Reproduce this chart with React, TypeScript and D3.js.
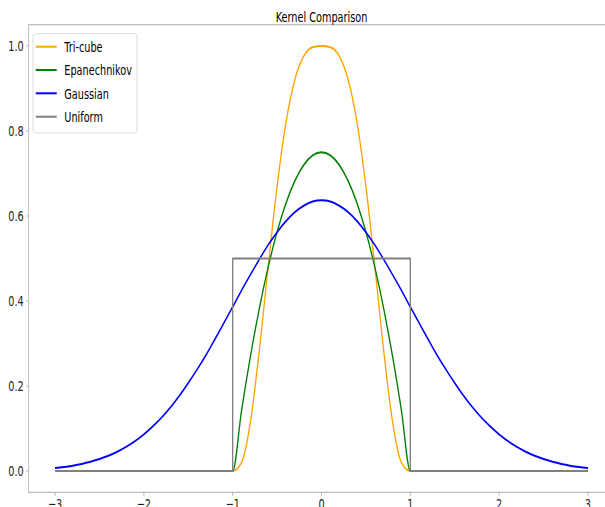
import React from "react";
import * as d3 from "d3";

// sample positions shared by the smooth kernels
const xGrid = [
  -3.0, -2.9, -2.8, -2.7, -2.6, -2.5, -2.4, -2.3, -2.2, -2.1,
  -2.0, -1.9, -1.8, -1.7, -1.6, -1.5, -1.4, -1.3, -1.2, -1.1,
  -1.0, -0.9, -0.8, -0.7, -0.6, -0.5, -0.4, -0.3, -0.2, -0.1,
  0.0,
  0.1, 0.2, 0.3, 0.4, 0.5, 0.6, 0.7, 0.8, 0.9, 1.0,
  1.1, 1.2, 1.3, 1.4, 1.5, 1.6, 1.7, 1.8, 1.9, 2.0,
  2.1, 2.2, 2.3, 2.4, 2.5, 2.6, 2.7, 2.8, 2.9, 3.0,
];

const triCube = [
  0, 0, 0, 0, 0, 0, 0, 0, 0, 0,
  0, 0, 0, 0, 0, 0, 0, 0, 0, 0,
  0, 0.02, 0.116, 0.284, 0.482, 0.67, 0.82, 0.921, 0.976, 0.997,
  1.0,
  0.997, 0.976, 0.921, 0.82, 0.67, 0.482, 0.284, 0.116, 0.02, 0,
  0, 0, 0, 0, 0, 0, 0, 0, 0, 0,
  0, 0, 0, 0, 0, 0, 0, 0, 0, 0,
];

const epanechnikov = [
  0, 0, 0, 0, 0, 0, 0, 0, 0, 0,
  0, 0, 0, 0, 0, 0, 0, 0, 0, 0,
  0, 0.1425, 0.27, 0.3825, 0.48, 0.5625, 0.63, 0.6825, 0.72, 0.7425,
  0.75,
  0.7425, 0.72, 0.6825, 0.63, 0.5625, 0.48, 0.3825, 0.27, 0.1425, 0,
  0, 0, 0, 0, 0, 0, 0, 0, 0, 0,
  0, 0, 0, 0, 0, 0, 0, 0, 0, 0,
];

const gaussian = [
  0.0071, 0.0095, 0.0126, 0.0166, 0.0217, 0.028, 0.0357, 0.0452, 0.0566, 0.0702,
  0.0862, 0.105, 0.126, 0.15, 0.177, 0.207, 0.239, 0.273, 0.31, 0.348,
  0.386, 0.425, 0.462, 0.498, 0.532, 0.562, 0.588, 0.609, 0.624, 0.634,
  0.637,
  0.634, 0.624, 0.609, 0.588, 0.562, 0.532, 0.498, 0.462, 0.425, 0.386,
  0.348, 0.31, 0.273, 0.239, 0.207, 0.177, 0.15, 0.126, 0.105, 0.0862,
  0.0702, 0.0566, 0.0452, 0.0357, 0.028, 0.0217, 0.0166, 0.0126, 0.0095, 0.0071,
];

// box kernel, with the jumps at -1 and 1
const uniformX = [-3, -1, -1, 1, 1, 3];
const uniformY = [0, 0, 0.5, 0.5, 0, 0];

const xTicks = [-3, -2, -1, 0, 1, 2, 3];
const yTicks = [0.0, 0.2, 0.4, 0.6, 0.8, 1.0];

const seriesNames = ["Tri-cube", "Epanechnikov", "Gaussian", "Uniform"];
const seriesColors = ["#ffa500", "#008000", "#0000ff", "#808080"];

// the figure looks squeezed sideways, so draw wide and scale x down
const SX = 0.67;
const H = 507;
const FONT = "DejaVu Sans, sans-serif";
const FS = 14.5;

export default function App() {
  const left = 28.4 / SX;
  const right = 614.6 / SX;
  const top = 24.75;
  const bottom = 492.25;

  const x = d3.scaleLinear().domain([-3.3, 3.3]).range([left, right]);
  const y = d3.scaleLinear().domain([-0.05, 1.05]).range([bottom, top]);

  const smooth = d3
    .line<number>()
    .x((_, i) => x(xGrid[i]))
    .y((d) => y(d))
    .curve(d3.curveMonotoneX);

  const straight = d3
    .line<number>()
    .x((_, i) => x(uniformX[i]))
    .y((d) => y(d));

  const paths = [
    smooth(triCube),
    smooth(epanechnikov),
    smooth(gaussian),
    straight(uniformY),
  ];

  const legendX = 33 / SX;
  const legendRows = [46.7, 70, 93.3, 116.7];

  return (
    <svg
      width={605}
      height={H}
      style={{ position: "absolute", left: 0, top: 0, background: "#fff" }}
    >
      <g transform={`scale(${SX},1)`} fontFamily={FONT} fontSize={FS}>
        <defs>
          <clipPath id="plot">
            <rect x={left} y={top} width={right - left} height={bottom - top} />
          </clipPath>
        </defs>

        {/* curves */}
        <g clipPath="url(#plot)">
          {paths.map((p, i) => (
            <path
              key={seriesNames[i]}
              d={p || ""}
              fill="none"
              stroke={seriesColors[i]}
              strokeWidth={2}
              strokeLinejoin="round"
            />
          ))}
        </g>

        {/* spines */}
        <rect
          x={left}
          y={top}
          width={right - left}
          height={bottom - top}
          fill="none"
          stroke="#aaaaaa"
          strokeWidth={1}
        />

        {/* x axis */}
        {xTicks.map((t) => (
          <g key={"x" + t} transform={`translate(${x(t)},${bottom})`}>
            <line y2={3.5} stroke="#aaaaaa" strokeWidth={1.2} />
            <text y={16.8} textAnchor="middle" fill="#222">
              {t < 0 ? "\u2212" + Math.abs(t) : String(t)}
            </text>
          </g>
        ))}

        {/* y axis */}
        {yTicks.map((t) => (
          <g key={"y" + t} transform={`translate(${left},${y(t)})`}>
            <line x2={-3.5} stroke="#aaaaaa" strokeWidth={1} />
            <text x={-7} dy="0.36em" textAnchor="end" fill="#222">
              {t.toFixed(1)}
            </text>
          </g>
        ))}

        {/* title */}
        <text x={(left + right) / 2} y={21.8} textAnchor="middle" fill="#000">
          Kernel Comparison
        </text>

        {/* legend */}
        <rect
          x={legendX}
          y={33.5}
          width={104 / SX}
          height={99.5}
          rx={4}
          fill="#fff"
          fillOpacity={0.8}
          stroke="#d6d6d6"
          strokeWidth={1}
        />
        {seriesNames.map((name, i) => (
          <g key={name} transform={`translate(0,${legendRows[i]})`}>
            <line
              x1={35.7 / SX}
              x2={56.7 / SX}
              stroke={seriesColors[i]}
              strokeWidth={2}
            />
            <text x={64.3 / SX} dy="0.36em" fill="#000">
              {name}
            </text>
          </g>
        ))}
      </g>
    </svg>
  );
}
